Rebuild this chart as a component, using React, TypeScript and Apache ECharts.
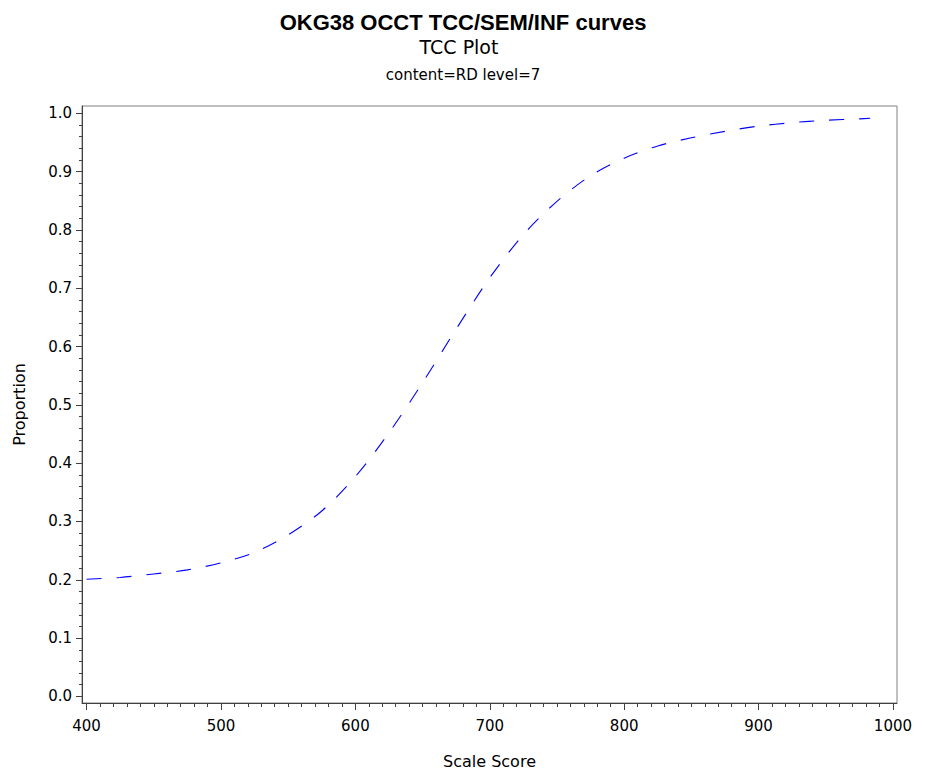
import React, { useEffect, useRef } from "react";
import * as echarts from "echarts";

const scores = [400, 425, 450, 475, 500, 525, 550, 575, 600, 625, 650, 675, 700, 725, 750, 775, 800, 825, 850, 875, 900, 925, 950, 975, 983];
const proportions = [0.201, 0.204, 0.21, 0.217, 0.229, 0.247, 0.277, 0.318, 0.377, 0.452, 0.538, 0.63, 0.718, 0.792, 0.849, 0.893, 0.923, 0.944, 0.958, 0.969, 0.978, 0.984, 0.988, 0.9905, 0.9915];

const xTickValues = [400, 500, 600, 700, 800, 900, 1000];
const yTickValues = [0, 0.1, 0.2, 0.3, 0.4, 0.5, 0.6, 0.7, 0.8, 0.9, 1.0];

const titleText = "OKG38 OCCT TCC/SEM/INF curves";
const subtitleText = "TCC Plot";
const subsubtitleText = "content=RD level=7";
const xName = "Scale Score";
const yName = "Proportion";

const X_MIN = 396.6;
const X_MAX = 1003;
const Y_MIN = -0.0113;
const Y_MAX = 1.0125;

export default function App() {
  const ref = useRef<HTMLDivElement>(null);
  useEffect(() => {
    if (!ref.current) return;
    const chart = echarts.init(ref.current, null, { renderer: "svg" });
    const xMinor: number[] = [];
    for (let v = 400; v <= 1000; v += 10) xMinor.push(v);
    const yMinor: number[] = [];
    for (let i = 0; i <= 50; i++) yMinor.push((i * 2) / 100);
    const labelFont = "DejaVu Sans";
    const axisColor = "#404040";
    const data = scores.map((s, i) => [s, proportions[i]]);
    chart.setOption({
      animation: false,
      backgroundColor: "#ffffff",
      title: [
        {
          text: titleText,
          left: 458,
          top: 6,
          textAlign: "center",
          textStyle: { fontFamily: "Liberation Sans", fontWeight: "bold", fontSize: 22, color: "#000" },
        },
        {
          text: subtitleText,
          left: 454,
          top: 32,
          textAlign: "center",
          textStyle: { fontFamily: labelFont, fontWeight: "normal", fontSize: 19, color: "#000" },
        },
        {
          text: subsubtitleText,
          left: 458,
          top: 62,
          textAlign: "center",
          textStyle: { fontFamily: labelFont, fontWeight: "normal", fontSize: 15, color: "#000" },
        },
      ],
      grid: {
        left: 82,
        top: 106,
        right: 30,
        bottom: 70,
        show: true,
        borderColor: "#808080",
        borderWidth: 1,
        containLabel: false,
      },
      xAxis: [
        {
          type: "value",
          position: "bottom",
          min: X_MIN,
          max: X_MAX,
          name: xName,
          nameLocation: "middle",
          nameGap: 50,
          nameTextStyle: { fontFamily: labelFont, fontSize: 16, color: "#000" },
          axisLine: { show: true, onZero: false, lineStyle: { color: axisColor, width: 1 } },
          axisTick: { show: true, customValues: xTickValues, length: 7, lineStyle: { color: axisColor } },
          axisLabel: {
            show: true,
            customValues: xTickValues,
            margin: 15,
            fontFamily: labelFont,
            fontSize: 15,
            color: "#000",
            formatter: (v: number) => String(Math.round(v)),
          },
          splitLine: { show: false },
        },
        {
          type: "value",
          position: "bottom",
          min: X_MIN,
          max: X_MAX,
          axisLine: { show: false, onZero: false },
          axisTick: { show: true, customValues: xMinor, length: 4, lineStyle: { color: axisColor } },
          axisLabel: { show: false },
          splitLine: { show: false },
        },
      ],
      yAxis: [
        {
          type: "value",
          position: "left",
          min: Y_MIN,
          max: Y_MAX,
          name: yName,
          nameLocation: "middle",
          nameGap: 55,
          nameRotate: 90,
          nameTextStyle: { fontFamily: labelFont, fontSize: 16, color: "#000" },
          axisLine: { show: true, onZero: false, lineStyle: { color: axisColor, width: 1 } },
          axisTick: { show: true, customValues: yTickValues, length: 6, lineStyle: { color: axisColor } },
          axisLabel: {
            show: true,
            customValues: yTickValues,
            margin: 10,
            fontFamily: labelFont,
            fontSize: 15,
            color: "#000",
            formatter: (v: number) => v.toFixed(1),
          },
          splitLine: { show: false },
        },
        {
          type: "value",
          position: "left",
          min: Y_MIN,
          max: Y_MAX,
          axisLine: { show: false, onZero: false },
          axisTick: { show: true, customValues: yMinor, length: 3, lineStyle: { color: axisColor } },
          axisLabel: { show: false },
          splitLine: { show: false },
        },
      ],
      series: [
        {
          type: "line",
          xAxisIndex: 0,
          yAxisIndex: 0,
          data,
          smooth: 0.3,
          showSymbol: false,
          symbol: "none",
          lineStyle: { color: "#0000ff", width: 1.1, type: [15, 15] },
        },
      ],
    });
    return () => chart.dispose();
  }, []);
  return (
    <div
      ref={ref}
      style={{ position: "fixed", left: 0, top: 0, width: 927, height: 774, background: "#fff" }}
    />
  );
}
